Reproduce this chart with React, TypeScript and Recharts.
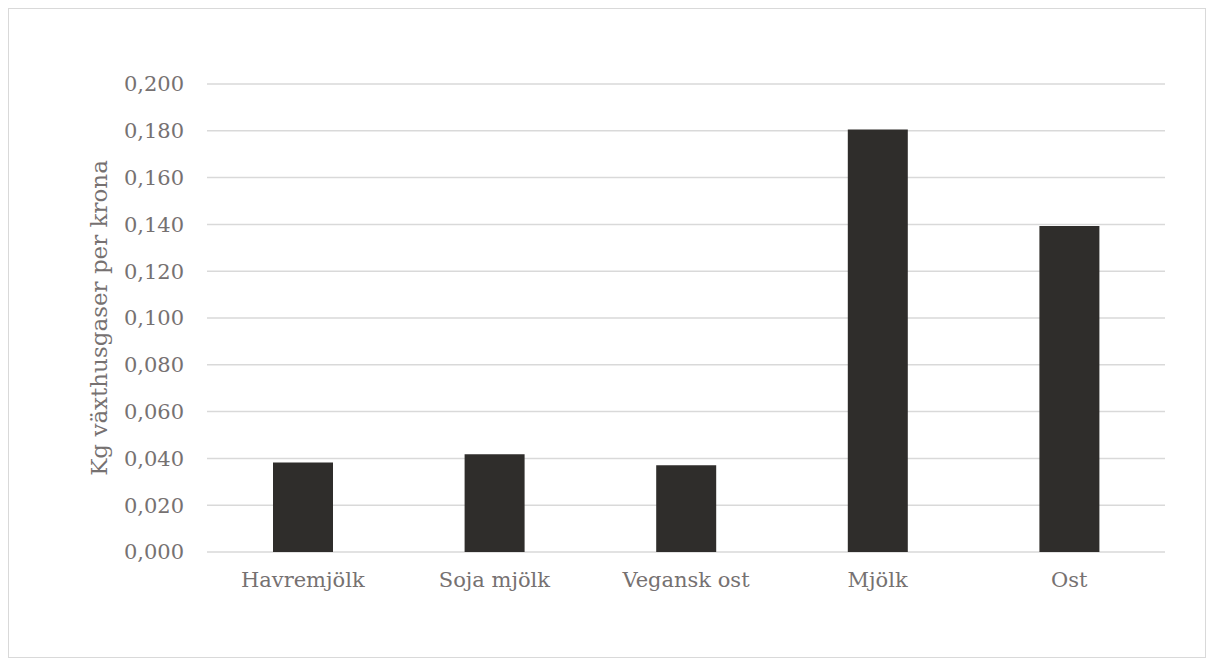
import { BarChart, Bar, XAxis, YAxis, CartesianGrid } from 'recharts'

// Kg växthusgaser per krona
const categories = ['Havremjölk', 'Soja mjölk', 'Vegansk ost', 'Mjölk', 'Ost']
const values = [0.0382, 0.0418, 0.0371, 0.1806, 0.1393]
const yTicks = [0, 0.02, 0.04, 0.06, 0.08, 0.1, 0.12, 0.14, 0.16, 0.18, 0.2]

const data = categories.map((name, i) => ({ name, value: values[i] }))

const textColor = '#767171'
const font = 'Georgia, "DejaVu Serif", serif'

export default function App() {
  return (
    <div
      style={{
        width: 1196,
        height: 648,
        border: '1px solid #d9d9d9',
        background: '#fff',
        fontFamily: font,
      }}
    >
      <BarChart
        width={1196}
        height={648}
        data={data}
        margin={{ top: 75, right: 40, bottom: 45, left: 0 }}
      >
        <CartesianGrid vertical={false} stroke="#d9d9d9" strokeWidth={1.5} />
        <XAxis
          dataKey="name"
          axisLine={false}
          tickLine={false}
          tickSize={6}
          tickMargin={14}
          height={60}
          tick={{ fill: textColor, fontSize: 21, fontFamily: font }}
        />
        <YAxis
          domain={[0, 0.2]}
          ticks={yTicks}
          width={198}
          axisLine={false}
          tickLine={false}
          tickSize={6}
          tickMargin={17}
          tickFormatter={(v: number) => v.toFixed(3).replace('.', ',')}
          tick={{ fill: textColor, fontSize: 21, fontFamily: font }}
          label={{
            value: 'Kg växthusgaser per krona',
            angle: -90,
            position: 'center',
            dx: -9,
            fill: textColor,
            fontSize: 23,
            fontFamily: font,
          }}
        />
        <Bar
          dataKey="value"
          fill="#2f2d2b"
          barSize={60}
          isAnimationActive={false}
        />
      </BarChart>
    </div>
  )
}
